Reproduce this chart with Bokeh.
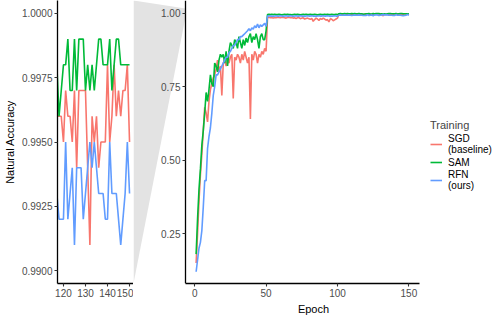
from bokeh.plotting import figure
from bokeh.layouts import row
from bokeh.models import Range1d, FixedTicker, PrintfTickFormatter, Legend, LegendItem
from bokeh.embed import file_html
from bokeh.resources import INLINE

# ---------------- data ----------------
epochs = list(range(1, 151))

sgd = [0.15, 0.25, 0.36, 0.45, 0.52, 0.60, 0.68, 0.66, 0.63, 0.70,
       0.74, 0.76, 0.78, 0.79, 0.81, 0.84, 0.80, 0.82, 0.72, 0.83,
       0.84, 0.82, 0.84, 0.83, 0.85, 0.86, 0.71, 0.85, 0.84, 0.86,
       0.85, 0.83, 0.86, 0.84, 0.87, 0.85, 0.83, 0.85, 0.64, 0.86,
       0.84, 0.87, 0.86, 0.83, 0.86, 0.85, 0.87, 0.86, 0.88, 0.87,
       0.985, 0.986, 0.984, 0.985, 0.983, 0.985, 0.984, 0.986, 0.985, 0.984,
       0.986, 0.985, 0.984, 0.983, 0.985, 0.986, 0.984, 0.985, 0.983, 0.984,
       0.982, 0.984, 0.985, 0.981, 0.983, 0.984, 0.980, 0.982, 0.983, 0.981,
       0.979, 0.982, 0.972, 0.978, 0.983, 0.980, 0.975, 0.982, 0.979, 0.983,
       0.980, 0.976, 0.978, 0.970, 0.981, 0.979, 0.974, 0.977, 0.980, 0.983,
       0.996, 0.997, 0.996, 0.995, 0.996, 0.997, 0.996, 0.995, 0.996, 0.997,
       0.996, 0.996, 0.995, 0.997, 0.996, 0.995, 0.996,
       0.996, 0.996, 0.995, 0.997, 0.996, 0.996, 0.995, 0.997, 0.994, 0.997,
       0.997, 0.997, 0.997, 0.994, 0.991, 0.996, 0.995, 0.996, 0.994, 0.995,
       0.995, 0.995, 0.998, 0.995, 0.996, 0.998, 0.996, 0.997, 0.996, 0.997,
       0.997, 0.998, 0.995]

sam = [0.18, 0.30, 0.40, 0.47, 0.55, 0.60, 0.66, 0.73, 0.70, 0.74,
       0.79, 0.76, 0.75, 0.83, 0.82, 0.80, 0.84, 0.86, 0.85, 0.86,
       0.83, 0.87, 0.82, 0.87, 0.90, 0.89, 0.88, 0.91, 0.90, 0.88,
       0.92, 0.90, 0.88, 0.91, 0.89, 0.915, 0.90, 0.92, 0.93, 0.90,
       0.92, 0.91, 0.93, 0.91, 0.88, 0.92, 0.93, 0.91, 0.91, 0.94,
       0.995, 0.996, 0.995, 0.996, 0.995, 0.996, 0.995, 0.995, 0.996, 0.995,
       0.994, 0.995, 0.996, 0.995, 0.996, 0.995, 0.995, 0.994, 0.995, 0.996,
       0.995, 0.996, 0.995, 0.994, 0.995, 0.996, 0.995, 0.996, 0.995, 0.995,
       0.996, 0.995, 0.995, 0.996, 0.995, 0.994, 0.995, 0.996, 0.995, 0.995,
       0.996, 0.995, 0.996, 0.995, 0.995, 0.996, 0.995, 0.995, 0.996, 0.995,
       0.998, 0.999, 0.998, 0.998, 0.999, 0.998, 0.999, 0.998, 0.998, 0.999,
       0.998, 0.999, 0.998, 0.998, 0.999, 0.998, 0.998,
       0.996, 0.997, 0.998, 0.998, 0.999, 0.997, 0.997, 0.999, 0.997, 0.999,
       0.999, 0.999, 0.997, 0.998, 0.997, 0.998, 0.997, 0.998, 0.999, 0.999,
       0.998, 0.998, 0.998, 0.999, 0.997, 0.998, 0.999, 0.999, 0.998, 0.998,
       0.998, 0.998, 0.998]

rfn = [0.12, 0.16, 0.20, 0.22, 0.26, 0.34, 0.43, 0.43, 0.54, 0.58,
       0.61, 0.66, 0.72, 0.75, 0.79, 0.79, 0.80, 0.81, 0.82, 0.83,
       0.84, 0.85, 0.85, 0.865, 0.87, 0.88, 0.89, 0.89, 0.90, 0.91,
       0.91, 0.92, 0.92, 0.925, 0.93, 0.935, 0.94, 0.947, 0.94, 0.95,
       0.945, 0.957, 0.95, 0.963, 0.95, 0.96, 0.955, 0.96, 0.965, 0.955,
       0.990, 0.991, 0.990, 0.990, 0.989, 0.990, 0.991, 0.990, 0.990, 0.991,
       0.990, 0.989, 0.990, 0.991, 0.990, 0.990, 0.991, 0.990, 0.989, 0.990,
       0.991, 0.990, 0.990, 0.991, 0.990, 0.990, 0.989, 0.990, 0.991, 0.990,
       0.990, 0.991, 0.990, 0.990, 0.989, 0.990, 0.991, 0.990, 0.990, 0.991,
       0.990, 0.990, 0.991, 0.990, 0.989, 0.990, 0.990, 0.991, 0.990, 0.990,
       0.993, 0.994, 0.993, 0.993, 0.994, 0.993, 0.993, 0.994, 0.993, 0.992,
       0.993, 0.994, 0.993, 0.993, 0.994, 0.993, 0.993,
       0.992, 0.992, 0.992, 0.995, 0.992, 0.993, 0.994, 0.991, 0.994, 0.994,
       0.994, 0.992, 0.993, 0.994, 0.995, 0.994, 0.995, 0.994, 0.993, 0.993,
       0.993, 0.992, 0.992, 0.995, 0.993, 0.993, 0.993, 0.992, 0.991, 0.992,
       0.993, 0.995, 0.993]

assert len(sgd) == len(sam) == len(rfn) == len(epochs)

series = [sgd, sam, rfn]
labels = ["SGD\n(baseline)", "SAM", "RFN\n(ours)"]
colors = ["#F8766D", "#00BA38", "#619CFF"]

inset_xlim = (117.3, 151.8)
inset_ylim = (0.9895, 1.0005)
main_xlim = (-6.45, 157.45)
main_ylim = (0.08, 1.043)
inset_xticks = [120, 130, 140, 150]
inset_yticks = [0.99, 0.9925, 0.995, 0.9975, 1.0]
main_xticks = [0, 50, 100, 150]
main_yticks = [0.25, 0.5, 0.75, 1.0]

FONT = "Liberation Sans"
FH = 283
INSET_W = 76      # inset panel width (px)
GAP_W = 52        # connector band width (px)
MAIN_W = 234      # main panel width (px)
LEG_W = 74        # legend area width (px)
LEG_PAD = 20


def style(p):
    p.outline_line_color = None
    p.grid.visible = False
    p.background_fill_color = "white"
    p.border_fill_color = "white"
    for ax in p.axis:
        ax.axis_line_color = "black"
        ax.axis_line_width = 1.3
        ax.major_tick_line_color = "#333333"
        ax.major_tick_line_width = 1.1
        ax.major_tick_out = 3
        ax.major_tick_in = 0
        ax.minor_tick_out = 0
        ax.minor_tick_in = 0
        ax.major_label_text_font = FONT
        ax.major_label_text_font_size = "10px"
        ax.major_label_text_color = "#4D4D4D"
        ax.major_label_standoff = 2
        ax.axis_label_text_font = FONT
        ax.axis_label_text_font_size = "11px"
        ax.axis_label_text_font_style = "normal"
        ax.axis_label_text_color = "black"
        ax.axis_label_standoff = 3


# ---------------- inset ----------------
pi = figure(x_range=Range1d(*inset_xlim), y_range=Range1d(*inset_ylim),
            frame_width=INSET_W, frame_height=FH, output_backend="svg",
            toolbar_location=None, min_border=0)
style(pi)
pi.xaxis.ticker = FixedTicker(ticks=inset_xticks)
pi.yaxis.ticker = FixedTicker(ticks=inset_yticks)
pi.yaxis.formatter = PrintfTickFormatter(format="%.4f")
pi.yaxis.axis_label = "Natural Accuracy"
for s, c in zip(series, colors):
    pi.line(epochs, s, line_color=c, line_width=1.6)

# ---------------- main (connector band left, legend area right) ----------------
span = main_xlim[1] - main_xlim[0]
band_x0 = main_xlim[0] - span * GAP_W / MAIN_W
leg_x1 = main_xlim[1] + span * LEG_W / MAIN_W
pm = figure(x_range=Range1d(band_x0, leg_x1), y_range=Range1d(*main_ylim),
            frame_width=GAP_W + MAIN_W + LEG_W, frame_height=FH,
            output_backend="svg", toolbar_location=None, min_border=0)
style(pm)
pm.xaxis.ticker = FixedTicker(ticks=main_xticks)
pm.xaxis.bounds = main_xlim
pm.yaxis.ticker = FixedTicker(ticks=main_yticks)
pm.yaxis.formatter = PrintfTickFormatter(format="%.2f")
pm.yaxis.fixed_location = main_xlim[0]
pm.xaxis.axis_label = "Epoch"

band_lo = inset_ylim[0] - 0.003
band_hi = inset_ylim[1] + 0.015
pm.patch([band_x0, main_xlim[0], main_xlim[0], band_x0],
         [main_ylim[1], band_hi, band_lo, main_ylim[0]],
         fill_color="#E3E3E3", line_color=None, level="underlay")

items = []
for s, c, lab in zip(series, colors, labels):
    r = pm.line(epochs, s, line_color=c, line_width=1.6)
    items.append(LegendItem(label=lab, renderers=[r]))

legend = Legend(items=items, title="Training",
                location=(GAP_W + MAIN_W + 11, 92),
                border_line_color=None, background_fill_alpha=0,
                padding=LEG_PAD, margin=0, spacing=0, glyph_width=12,
                glyph_height=14, label_standoff=6, label_width=46,
                label_text_font=FONT, label_text_font_size="10px",
                label_text_color="black", label_height=12,
                title_text_font=FONT, title_text_font_size="11px",
                title_text_font_style="normal", title_standoff=2)
pm.add_layout(legend, "center")

layout = row(pi, pm)
open("out.html", "w").write(file_html(layout, INLINE))
